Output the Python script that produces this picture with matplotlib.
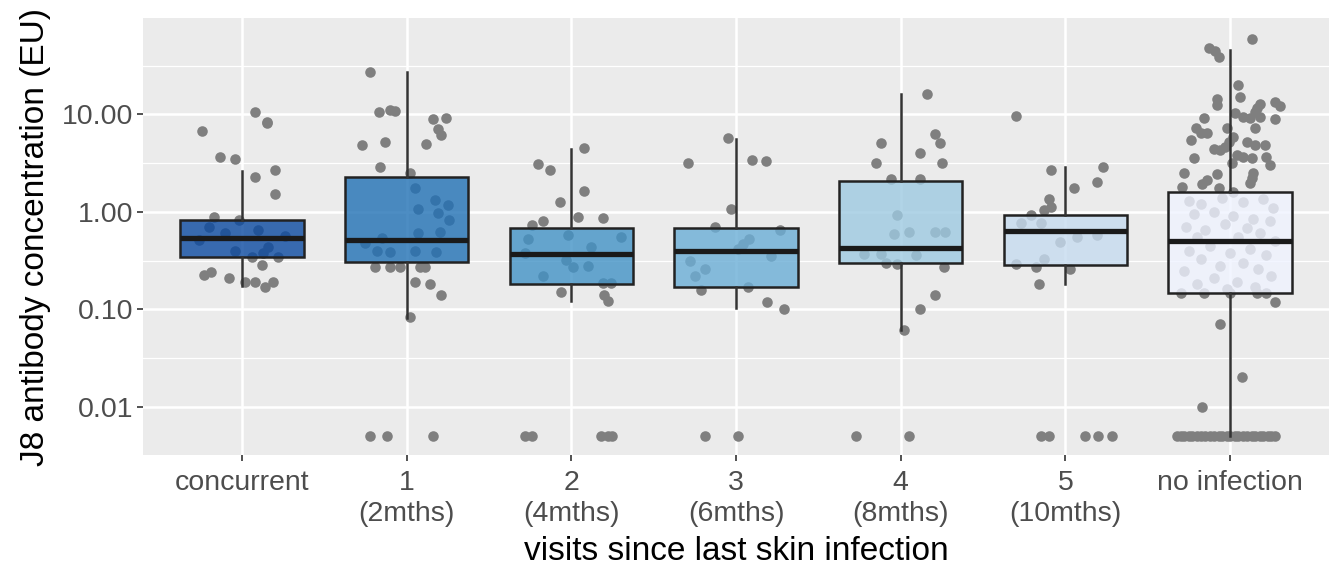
import numpy as np
import matplotlib
matplotlib.use("Agg")
import matplotlib.pyplot as plt
from matplotlib.ticker import FixedLocator, NullFormatter

plt.rcParams['font.family'] = ['Liberation Sans', 'DejaVu Sans']

# categories and tick labels
categories = ["concurrent", "1", "2", "3", "4", "5", "no infection"]
tick_labels = ["concurrent", "1\n(2mths)", "2\n(4mths)", "3\n(6mths)",
               "4\n(8mths)", "5\n(10mths)", "no infection"]
fill_colors = ["#0b4aa0", "#2171b5", "#4292c6", "#6baed6", "#9ecae1", "#c6dbef", "#eff3ff"]

# box statistics (EU)
q1 = [0.343, 0.307, 0.18, 0.17, 0.30, 0.284, 0.148]
med = [0.537, 0.51, 0.368, 0.398, 0.43, 0.64, 0.50]
q3 = [0.82, 2.29, 0.69, 0.69, 2.08, 0.925, 1.6]
whislo = [0.173, 0.081, 0.122, 0.104, 0.062, 0.18, 0.005]
whishi = [2.61, 27.3, 4.4, 5.56, 16.1, 2.85, 45.5]

# jittered observations: (jitter offset, value)
concurrent_pts = [(0.08, 10.6), (0.15, 8.4), (0.15, 8.1), (-0.24, 6.8), (-0.13, 3.66), (-0.04, 3.5),
                  (0.2, 2.68), (0.08, 2.25), (0.2, 1.51), (-0.17, 0.89), (-0.02, 0.82), (-0.2, 0.70),
                  (-0.1, 0.60), (0.10, 0.65), (0.26, 0.56), (-0.04, 0.40), (0.16, 0.44), (-0.26, 0.51),
                  (0.06, 0.345), (0.13, 0.376), (0.22, 0.345), (0.12, 0.284), (-0.23, 0.224),
                  (-0.19, 0.242), (-0.08, 0.21), (0.02, 0.19), (0.08, 0.19), (0.14, 0.17), (0.19, 0.19)]
visit1_pts = [(-0.22, 27.3), (-0.17, 10.6), (-0.10, 11.2), (-0.07, 10.8), (0.16, 8.9), (0.24, 9.1),
              (0.19, 7.0), (0.21, 6.1), (-0.27, 4.83), (-0.13, 5.2), (0.12, 5.0), (-0.16, 2.9),
              (0.02, 2.5), (0.05, 1.75), (0.07, 1.07), (0.17, 1.32), (0.25, 1.17), (0.19, 0.97),
              (0.26, 0.82), (0.20, 0.62), (0.07, 0.60), (-0.15, 0.54), (-0.25, 0.48), (-0.10, 0.39),
              (0.05, 0.40), (0.18, 0.39), (-0.18, 0.40), (-0.19, 0.27), (-0.10, 0.27), (-0.04, 0.27),
              (0.08, 0.27), (0.11, 0.27), (0.05, 0.19), (0.14, 0.18), (0.21, 0.14), (0.02, 0.084),
              (-0.22, 0.005), (-0.12, 0.005), (0.16, 0.005)]
visit2_pts = [(0.08, 4.47), (-0.20, 3.06), (-0.13, 2.68), (0.08, 1.64), (-0.07, 1.27), (0.04, 0.89),
              (0.19, 0.87), (-0.17, 0.80), (-0.24, 0.73), (-0.26, 0.53), (-0.02, 0.58), (0.12, 0.44),
              (0.30, 0.55), (-0.03, 0.32), (0.01, 0.27), (0.10, 0.28), (-0.17, 0.22), (-0.28, 0.38),
              (0.19, 0.184), (0.24, 0.187), (-0.06, 0.151), (0.20, 0.14), (0.22, 0.122),
              (-0.28, 0.005), (-0.24, 0.005), (0.18, 0.005), (0.22, 0.005), (0.25, 0.005)]
visit3_pts = [(-0.05, 5.66), (-0.29, 3.18), (0.10, 3.39), (0.18, 3.31), (-0.03, 1.08), (-0.13, 0.70),
              (0.08, 0.53), (0.04, 0.47), (0.27, 0.65), (0.21, 0.35), (-0.28, 0.31), (-0.19, 0.26),
              (-0.25, 0.22), (0.01, 0.42), (-0.21, 0.157), (0.07, 0.17), (0.19, 0.12), (0.29, 0.10),
              (-0.19, 0.005), (0.01, 0.005)]
visit4_pts = [(0.16, 16.1), (0.21, 6.3), (0.24, 5.1), (-0.12, 5.1), (0.12, 4.0), (-0.15, 3.18),
              (0.25, 3.18), (-0.06, 2.15), (0.12, 2.15), (-0.02, 0.925), (-0.04, 0.59), (0.05, 0.62),
              (0.21, 0.62), (0.27, 0.62), (-0.22, 0.37), (-0.12, 0.37), (0.09, 0.36), (-0.09, 0.30),
              (-0.02, 0.29), (0.26, 0.27), (0.21, 0.14), (0.12, 0.10), (0.02, 0.061),
              (-0.27, 0.005), (0.05, 0.005)]
visit5_pts = [(-0.30, 9.6), (-0.09, 2.68), (0.23, 2.9), (0.19, 2.03), (0.05, 1.76), (-0.10, 1.34),
              (-0.09, 1.12), (-0.13, 1.04), (-0.21, 0.925), (-0.27, 0.76), (-0.15, 0.76), (-0.03, 0.49),
              (0.07, 0.55), (0.19, 0.58), (-0.13, 0.33), (-0.30, 0.29), (-0.18, 0.27), (0.03, 0.26),
              (-0.16, 0.18), (-0.15, 0.005), (-0.10, 0.005), (0.12, 0.005), (0.20, 0.005), (0.28, 0.005)]
none_pts = [(0.13, 58.6), (-0.13, 47.4), (-0.09, 44.9), (-0.07, 39), (0.05, 20), (-0.08, 14.2),
            (-0.08, 12.4), (0.06, 15.1), (0.18, 12.9), (0.16, 11.5), (0.15, 10.6), (0.27, 13.4),
            (0.30, 12.2), (0.03, 10.2), (0.08, 9.4), (0.12, 9.1), (0.18, 9.4), (0.27, 8.9),
            (-0.16, 9.2), (-0.21, 7.2), (-0.18, 6.4), (-0.14, 6.4), (-0.24, 5.4), (-0.02, 7.2),
            (0.15, 7.3), (0.02, 5.9), (-0.01, 5.2), (-0.03, 4.6), (0.10, 5.2), (0.15, 4.8),
            (0.21, 4.9), (-0.10, 4.4), (-0.06, 4.3), (0.04, 3.8), (0.08, 3.66), (0.13, 3.6),
            (0.22, 3.66), (0.24, 3.0), (-0.22, 3.6), (0.01, 3.18), (-0.28, 2.5), (-0.08, 2.47),
            (0.14, 2.5), (0.13, 2.2), (0.12, 1.98), (-0.14, 2.11), (-0.17, 1.95), (-0.29, 1.8),
            (-0.07, 1.74), (0.02, 1.6),
            (-0.25, 1.3), (-0.18, 1.2), (-0.05, 1.4), (0.08, 1.25), (0.2, 1.35), (0.26, 1.1),
            (-0.22, 0.95), (-0.1, 1.0), (0.02, 0.9), (0.14, 0.85), (0.24, 0.8), (-0.27, 0.7),
            (-0.15, 0.65), (-0.03, 0.75), (0.1, 0.68), (0.18, 0.6), (-0.2, 0.55), (0.05, 0.55),
            (0.27, 0.5), (-0.12, 0.45), (0.12, 0.42), (-0.25, 0.4), (0.0, 0.38), (0.22, 0.36),
            (-0.18, 0.33), (0.08, 0.3), (-0.06, 0.28), (0.17, 0.26), (-0.28, 0.25), (0.25, 0.22),
            (-0.1, 0.21), (0.04, 0.19), (-0.2, 0.18), (0.15, 0.17), (-0.02, 0.16),
            (-0.30, 0.148), (-0.16, 0.148), (0.0, 0.148), (0.16, 0.148), (0.22, 0.148),
            (0.27, 0.12), (-0.06, 0.07), (0.07, 0.02), (-0.17, 0.01),
            (-0.32, 0.005), (-0.30, 0.005), (-0.28, 0.005), (-0.25, 0.005), (-0.23, 0.005),
            (-0.20, 0.005), (-0.18, 0.005), (-0.15, 0.005), (-0.12, 0.005), (-0.10, 0.005),
            (-0.07, 0.005), (-0.05, 0.005), (-0.02, 0.005), (0.0, 0.005), (0.03, 0.005),
            (0.05, 0.005), (0.08, 0.005), (0.10, 0.005), (0.13, 0.005), (0.15, 0.005),
            (0.18, 0.005), (0.20, 0.005), (0.23, 0.005), (0.25, 0.005), (0.27, 0.005)]
all_pts = [concurrent_pts, visit1_pts, visit2_pts, visit3_pts, visit4_pts, visit5_pts, none_pts]

fig = plt.figure(figsize=(13.37, 5.66), dpi=100)
ax = fig.add_axes([0.107, 0.196, 0.887, 0.772])
ax.set_facecolor("#ebebeb")
for s in ax.spines.values():
    s.set_visible(False)

ax.set_yscale("log")
ax.set_ylim(0.0032, 97)
ax.set_xlim(-0.6, len(categories) - 0.4)

# grid
major_y = [0.01, 0.1, 1, 10]
minor_y = [10 ** (k + 0.5) for k in range(-3, 2)]
for v in minor_y:
    ax.axhline(v, color="white", lw=0.9, zorder=0)
for v in major_y:
    ax.axhline(v, color="white", lw=1.8, zorder=0)
for i in range(len(categories)):
    ax.axvline(i, color="white", lw=1.8, zorder=0)

# jittered points underneath the boxes
for i, pts in enumerate(all_pts):
    offs = np.array([p[0] for p in pts])
    vals = np.array([p[1] for p in pts])
    ax.plot(i + offs, vals, "o", ms=7.6, color="#7f7f7f", mec="none", zorder=2)

stats = []
for i in range(len(categories)):
    stats.append(dict(med=med[i], q1=q1[i], q3=q3[i], whislo=whislo[i], whishi=whishi[i],
                      fliers=[], label=categories[i]))
bp = ax.bxp(stats, positions=range(len(categories)), widths=0.75, patch_artist=True,
            showfliers=False, showcaps=False, manage_ticks=False,
            boxprops=dict(edgecolor="#222222", linewidth=1.8),
            whiskerprops=dict(color="#333333", linewidth=1.8),
            medianprops=dict(color="#1a1a1a", linewidth=3.8, solid_capstyle="butt"))
for patch, c in zip(bp["boxes"], fill_colors):
    patch.set_facecolor(matplotlib.colors.to_rgba(c, 0.8))
    patch.set_zorder(3)
for ln in bp["whiskers"] + bp["medians"]:
    ln.set_zorder(4)

ax.yaxis.set_major_locator(FixedLocator(major_y))
ax.yaxis.set_minor_locator(FixedLocator([]))
ax.yaxis.set_minor_formatter(NullFormatter())
ax.set_yticklabels(["0.01", "0.10", "1.00", "10.00"])
ax.set_xticks(range(len(categories)))
ax.set_xticklabels(tick_labels, linespacing=1.25)
ax.tick_params(axis="both", colors="#333333", length=4, width=1.2, labelsize=20.5,
               labelcolor="#4d4d4d", pad=3)
ax.tick_params(axis="x", pad=7)

ax.set_xlabel("visits since last skin infection", fontsize=24, color="black", labelpad=6)
ax.set_ylabel("J8 antibody concentration (EU)", fontsize=24, color="black", labelpad=8)

fig.savefig("out.png", dpi=100, facecolor="white")
